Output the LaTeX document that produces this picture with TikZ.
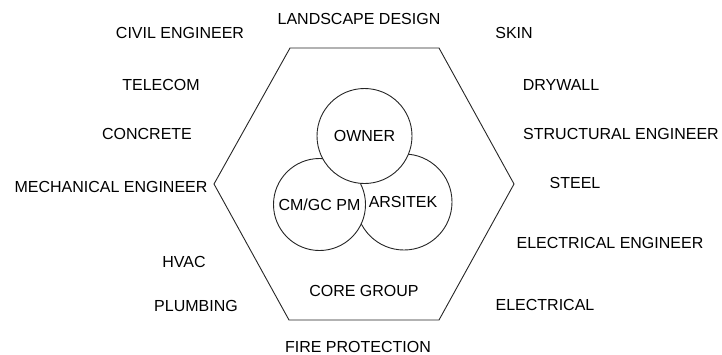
\documentclass[tikz,border=0pt]{standalone}
\usepackage{fontspec}
\setmainfont{Liberation Sans}
\usetikzlibrary{calc}

\begin{document}
\begin{tikzpicture}[x=1pt,y=-1pt,
    lbl/.style={font=\fontsize{16}{19}\selectfont,inner sep=0pt},
    party/.style={circle,draw=black!85,line width=0.9pt,fill=white,font=\fontsize{16}{19}\selectfont,inner sep=0pt}]
      \useasboundingbox (0,0) rectangle (722,354);

      % hexagon
      \coordinate (h-l) at (214,184);
      \coordinate (h-tl) at (290,48);
      \coordinate (h-tr) at (439,48);
      \coordinate (h-r) at (514,184);
      \coordinate (h-br) at (439,320);
      \coordinate (h-bl) at (289,320);
      \draw[black!85,line width=0.9pt] (h-l) -- (h-tl) -- (h-tr) -- (h-r) -- (h-br) -- (h-bl) -- cycle;

      % core circles
      \node[party,minimum size=96pt] (ars) at (404,202) {\hspace*{-2pt}ARSITEK};
      \node[party,minimum size=92pt] (cm) at (319.5,204.5) {CM/GC PM};
      \node[party,minimum size=95pt] (own) at (364.5,136) {OWNER};
      \node[lbl] (core) at (364,291) {CORE GROUP};

      % trades round the hexagon
      \node[lbl] (land) at (359,19) {LANDSCAPE DESIGN};
      \node[lbl] (civil) at (180,33) {CIVIL ENGINEER};
      \node[lbl] (skin) at (514,33) {SKIN};
      \node[lbl] (tele) at (161,85) {TELECOM};
      \node[lbl] (dry) at (561,85) {DRYWALL};
      \node[lbl] (conc) at (147,134) {CONCRETE};
      \node[lbl] (struct) at (621,134) {STRUCTURAL ENGINEER};
      \node[lbl] (mech) at (111,187) {MECHANICAL ENGINEER};
      \node[lbl] (steel) at (575,183) {STEEL};
      \node[lbl] (hvac) at (184,262) {HVAC};
      \node[lbl] (elecen) at (610,243) {ELECTRICAL ENGINEER};
      \node[lbl] (plumb) at (196,306) {PLUMBING};
      \node[lbl] (elec) at (545,305) {ELECTRICAL};
      \node[lbl] (fire) at (358,347) {FIRE PROTECTION};
    \end{tikzpicture}
\end{document}
